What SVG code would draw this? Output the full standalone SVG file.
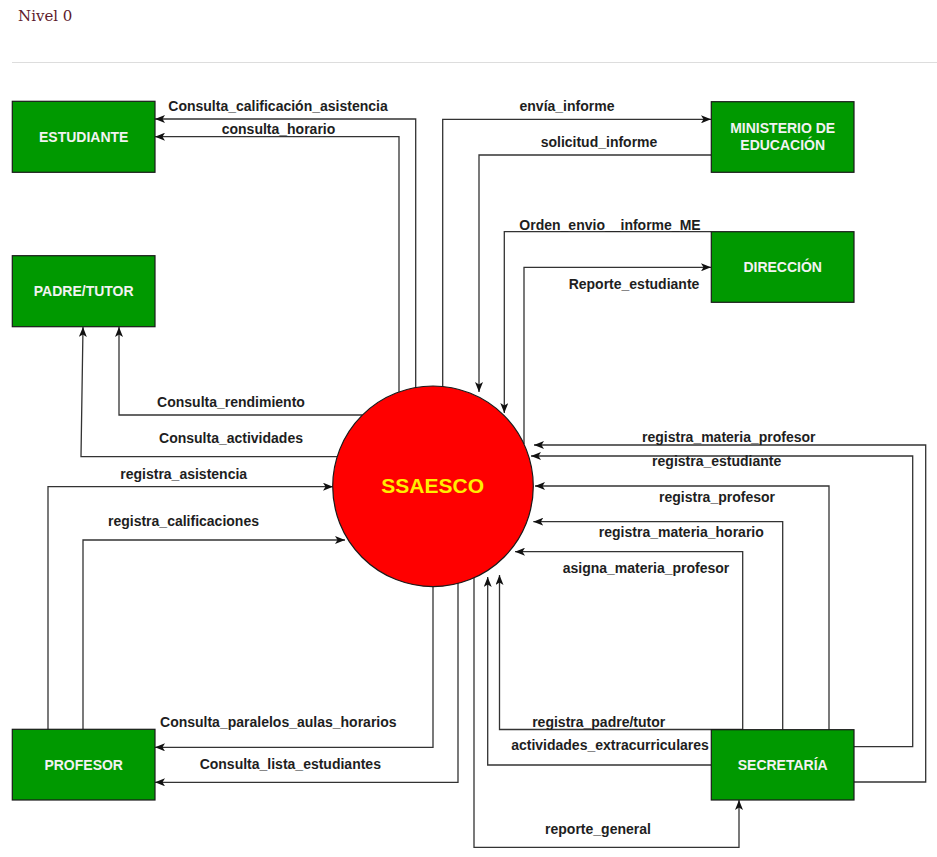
<svg xmlns="http://www.w3.org/2000/svg" width="937" height="857" viewBox="0 0 937 857">
<defs>
<marker id="arr" viewBox="0 0 10 8" refX="10" refY="4" markerWidth="10" markerHeight="8" markerUnits="userSpaceOnUse" orient="auto">
<path d="M0,0 L10,4 L0,8 L2.5,4 Z" fill="#111"/>
</marker>
<style>
.ext{fill:#009900;stroke:#1a1a1a;stroke-width:1.2}
.et{font-family:"Liberation Sans",Arial,sans-serif;font-weight:bold;font-size:14px;fill:#f2f2f2;text-anchor:middle}
.c{fill:none;stroke:#333;stroke-width:1.3;marker-end:url(#arr)}
.lb{font-family:"Liberation Sans",Arial,sans-serif;font-weight:bold;font-size:14px;fill:#1e1e1e;text-anchor:middle}
</style>
</defs>
<rect width="937" height="857" fill="#ffffff"/>
<text x="18" y="20.5" font-family="'DejaVu Serif','Liberation Serif',serif" font-size="15" fill="#5e1a2c">Nivel 0</text>
<line x1="12" y1="62.5" x2="937" y2="62.5" stroke="#dddddd" stroke-width="1"/>

<g id="connectors">
<path class="c" d="M415.7,388 L415.7,119 L155,119"/>
<text class="lb" x="278" y="111">Consulta_calificación_asistencia</text>
<path class="c" d="M399,392 L399,136.7 L155,136.7"/>
<text class="lb" x="278.5" y="134">consulta_horario</text>
<path class="c" d="M442.7,387 L442.7,119.3 L711,119.3"/>
<text class="lb" x="567" y="110.5">envía_informe</text>
<path class="c" d="M711,155 L479,155 L479,392"/>
<text class="lb" x="599" y="146.5">solicitud_informe</text>
<path class="c" d="M711,231.7 L504.3,231.7 L504.3,413"/>
<text class="lb" x="610" y="230">Orden_envio__informe_ME</text>
<path class="c" d="M524,444 L524,267.3 L711,267.3"/>
<text class="lb" x="634" y="289">Reporte_estudiante</text>
<path class="c" d="M362.6,415 L119,415 L119,327"/>
<text class="lb" x="231" y="407">Consulta_rendimiento</text>
<path class="c" d="M337.4,456.7 L81,456.7 L83,327"/>
<text class="lb" x="231" y="443">Consulta_actividades</text>
<path class="c" d="M48,729.5 L48,486.7 L333,486.7"/>
<text class="lb" x="183.7" y="478.5">registra_asistencia</text>
<path class="c" d="M83,729.5 L83,540 L345,540"/>
<text class="lb" x="183.5" y="526">registra_calificaciones</text>
<path class="c" d="M433,586.5 L433,747.3 L155,747.3"/>
<text class="lb" x="278.3" y="727">Consulta_paralelos_aulas_horarios</text>
<path class="c" d="M458,583 L458,782.3 L155,782.3"/>
<text class="lb" x="290.3" y="768.5">Consulta_lista_estudiantes</text>
<path class="c" d="M474,577 L474,847.3 L739,847.3 L739,800"/>
<text class="lb" x="598" y="834">reporte_general</text>
<path class="c" d="M742.7,729.5 L499.5,729.5 L499.5,575"/>
<text class="lb" x="598.7" y="727.3">registra_padre/tutor</text>
<path class="c" d="M711,765 L487.7,765 L487.7,577"/>
<text class="lb" x="610" y="750">actividades_extracurriculares</text>
<path class="c" d="M742.7,729.7 L742.7,551.7 L515,551.7"/>
<text class="lb" x="646" y="573.3">asigna_materia_profesor</text>
<path class="c" d="M782.7,729.7 L782.7,521.7 L533.3,521.7"/>
<text class="lb" x="681.3" y="537.3">registra_materia_horario</text>
<path class="c" d="M829,729.7 L829,486 L535,486"/>
<text class="lb" x="717" y="502.3">registra_profesor</text>
<path class="c" d="M854,746.7 L912.7,746.7 L912.7,456 L531,456"/>
<text class="lb" x="716.7" y="465.7">registra_estudiante</text>
<path class="c" d="M854,782 L925.7,782 L925.7,445 L534,445"/>
<text class="lb" x="728.8" y="442.3">registra_materia_profesor</text>
</g>

<g id="ssaesco">
<circle cx="433" cy="486.3" r="100.3" fill="#ff0000" stroke="#1a1a1a" stroke-width="1.2"/>
<text x="432.7" y="493" font-family="'Liberation Sans',Arial,sans-serif" font-weight="bold" font-size="21" fill="#ffee00" text-anchor="middle">SSAESCO</text>
</g>
<g id="estudiante">
<rect class="ext" x="12.3" y="101.3" width="142.7" height="71"/>
<text class="et" x="83.7" y="141.5">ESTUDIANTE</text>
</g>
<g id="padre_tutor">
<rect class="ext" x="12.3" y="255.7" width="142.7" height="71"/>
<text class="et" x="83.7" y="295.5">PADRE/TUTOR</text>
</g>
<g id="profesor">
<rect class="ext" x="12.3" y="729.3" width="142.7" height="70.7"/>
<text class="et" x="83.7" y="769.5">PROFESOR</text>
</g>
<g id="ministerio">
<rect class="ext" x="711.3" y="101.7" width="142.7" height="70.6"/>
<text class="et" x="782.7" y="133">MINISTERIO DE</text>
<text class="et" x="782.7" y="150">EDUCACIÓN</text>
</g>
<g id="direccion">
<rect class="ext" x="711.3" y="231.7" width="142.7" height="70.6"/>
<text class="et" x="782.7" y="271.5">DIRECCIÓN</text>
</g>
<g id="secretaria">
<rect class="ext" x="711.3" y="729.7" width="142.7" height="70.3"/>
<text class="et" x="782.7" y="769.5">SECRETARÍA</text>
</g>
</svg>
